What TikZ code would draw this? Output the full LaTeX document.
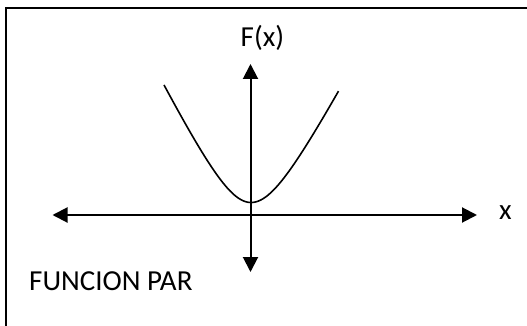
\documentclass[tikz,border=0pt]{standalone}
\usepackage{fontspec}
\setmainfont{Carlito}
\usetikzlibrary{arrows.meta}
\tikzset{
  axisline/.style={line width=2pt, {Triangle[length=15pt,width=15pt]}-{Triangle[length=15pt,width=15pt]}},
  curveline/.style={line width=1.6pt},
  framestyle/.style={line width=2pt},
  lbl/.style={inner sep=0pt, anchor=base west, font=\fontsize{29}{35}\selectfont}
}
\begin{document}
\begin{tikzpicture}[x=1pt,y=-1pt]
\useasboundingbox (0,0) rectangle (527,326);
\draw[framestyle] (6,326) -- (6,8) -- (527,8);
\coordinate (xl) at (52.5,215);
\coordinate (xr) at (477,215);
\coordinate (yt) at (250.5,64);
\coordinate (yb) at (250.5,272);
\draw[axisline] (xl) -- (xr);
\draw[axisline] (yb) -- (yt);
\draw[curveline] plot[domain=-87:0,samples=60] ({251+\x},{202.5-2*(sqrt(35*35+\x*\x)-35)})
  -- plot[domain=0:87.5,samples=60] ({251+\x},{202.5-1.88*(sqrt(35*35+\x*\x)-35)});
\node[lbl] (fx) at (240.5,47) {F(x)};
\node[lbl] (xlab) at (499,219) {x};
\node[lbl] (title) at (29,290.7) {FUNCION PAR};
\end{tikzpicture}
\end{document}
